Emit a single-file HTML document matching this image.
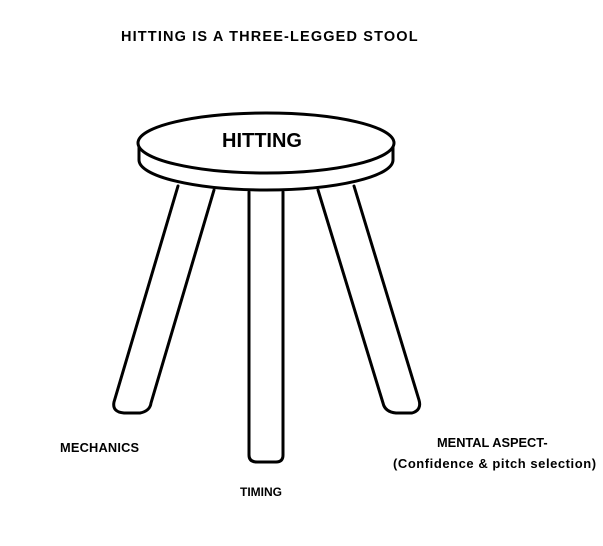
<!DOCTYPE html>
<html><head><style>
body{margin:0;background:#fff;width:603px;height:546px;overflow:hidden;position:relative;font-family:"Liberation Sans",sans-serif;font-weight:bold;color:#000}
.t{position:absolute;white-space:nowrap;font-size:12px}
</style></head><body>
<svg width="603" height="546" style="position:absolute;left:0;top:0" fill="none" stroke="#000" stroke-width="3" stroke-linecap="round" stroke-linejoin="round">
<path d="M178,186 L114,402 Q112,412 124,413 L140,413 Q150,411 151,403 L214,190"/>
<path d="M318,190 L383,403 Q385,412 396,413 L412,413 Q422,410 419,400 L354,186"/>
<path d="M249,192 L249,455 Q249,462 257,462 L276,462 Q283,462 283,455 L283,192"/>
<path d="M139,146 L139,160 A127,30 0 0 0 393,160 L393,146" fill="#fff"/>
<ellipse cx="266" cy="143" rx="128" ry="30" fill="#fff"/>
</svg>
<div class="t" style="left:121px;top:29px;font-size:14.5px;letter-spacing:1.15px">HITTING IS A THREE-LEGGED STOOL</div>
<div class="t" style="left:222px;top:130px;font-size:20px">HITTING</div>
<div class="t" style="left:60px;top:440px;font-size:12.8px;letter-spacing:0.2px">MECHANICS</div>
<div class="t" style="left:437px;top:435px;font-size:12.8px">MENTAL ASPECT-</div>
<div class="t" style="left:393px;top:456px;font-size:13px;letter-spacing:0.55px">(Confidence &amp; pitch selection)</div>
<div class="t" style="left:240px;top:485px">TIMING</div>
</body></html>
